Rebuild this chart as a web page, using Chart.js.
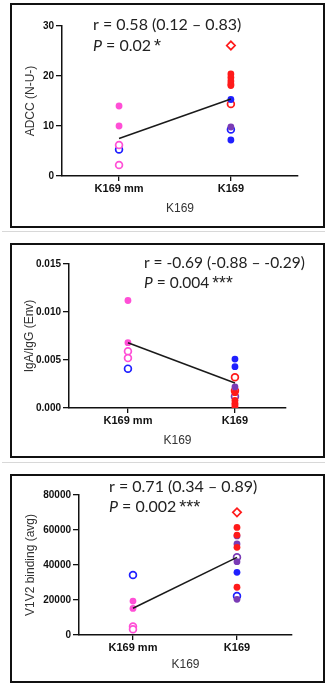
<!DOCTYPE html>
<html>
<head>
<meta charset="utf-8">
<script src="https://cdn.jsdelivr.net/npm/chart.js@4.4.1/dist/chart.umd.min.js"></script>
<style>
  html, body { margin: 0; padding: 0; background: #fff; }
  body { width: 328px; height: 687px; position: relative; overflow: hidden; }
  .box { position: absolute; left: 10px; width: 315px; border: 2px solid #111; box-sizing: border-box; }
  .box canvas { display: block; }
  .sep { position: absolute; left: 2px; width: 323px; height: 1px; background: #d8d8d8; }
</style>
</head>
<body>
<div class="box" style="top:3px;height:225px"><canvas id="c1" width="311" height="221"></canvas></div>
<div class="sep" style="top:231px"></div>
<div class="box" style="top:243px;height:215px"><canvas id="c2" width="311" height="211"></canvas></div>
<div class="sep" style="top:462px"></div>
<div class="box" style="top:474px;height:209px"><canvas id="c3" width="311" height="205"></canvas></div>
<script>
// categories (x = 1, 2)
var categories = ['K169 mm', 'K169'];
var xTitle = 'K169';

// kolory grup
var PINK = '#ff4fd6';
var BLUE = '#1f1fff';
var RED = '#ff1a1a';
var PURPLE = '#7a3bb5';

// ---- panel 1: ADCC ----
var adccMmPinkFilled = [14.0, 10.0];
var adccMmPinkOpen = [6.2, 2.2];
var adccMmBlueOpen = [5.3];
var adccKRedDiamond = [26.1];
var adccKRedFilled = [20.4, 19.7, 19.0, 18.4, 18.1];
var adccKRedOpen = [14.4];
var adccKBlueFilled = [15.3, 7.2];
var adccKPurpleFilled = [9.8];
var adccKBlueOpen = [9.3];
var adccFit = [7.5, 15.4];
var adccTicks = [0, 10, 20, 30];

// ---- panel 2: IgA/IgG ----
var igaMmPinkFilled = [0.0112, 0.0068];
var igaMmPinkOpen = [0.0059, 0.0052];
var igaMmBlueOpen = [0.0041];
var igaKBlueFilled = [0.0051, 0.0043];
var igaKRedOpen = [0.0032, 0.0018];
var igaKPurpleFilled = [0.0022];
var igaKRedDiamond = [0.0019];
var igaKPurpleOpen = [0.0012];
var igaKRedFilled = [0.0016, 0.0008, 0.0005, 0.0003, 0.0001];
var igaFit = [0.0068, 0.0026];
var igaTicks = [0, 0.005, 0.010, 0.015];

// ---- panel 3: V1V2 ----
var v1v2MmBlueOpen = [34300];
var v1v2MmPinkFilled = [19400, 15200];
var v1v2MmPinkOpen = [4800, 3300];
var v1v2KRedDiamond = [70100];
var v1v2KRedFilled = [61500, 57100, 50100, 27300];
var v1v2KPurpleFilled = [56600, 52000, 41900, 20400];
var v1v2KPurpleOpen = [44400];
var v1v2KBlueFilled = [35800];
var v1v2KBlueOpen = [22300];
var v1v2Fit = [15300, 44400];
var v1v2Ticks = [0, 20000, 40000, 60000, 80000];

function pts(cat, values) {
    return values.map(function (v) { return { x: cat, y: v }; });
}

function dot(cat, values, color, open, style) {
    return {
        type: 'scatter',
        data: pts(cat, values),
        pointStyle: style || 'circle',
        pointRadius: style ? 4.2 : 3.4,
        pointBorderWidth: open ? 1.7 : 0,
        pointBorderColor: color,
        pointBackgroundColor: open ? '#fff' : color,
        pointHoverRadius: 0
    };
}

function fitLine(values) {
    return {
        type: 'line',
        data: pts(1, [values[0]]).concat(pts(2, [values[1]])),
        borderColor: '#1a1a1a',
        borderWidth: 1.5,
        pointRadius: 0,
        fill: false
    };
}

// napis z r i P
var statText = {
    id: 'statText',
    afterDraw: function (chart) {
        var o = chart.options.plugins.statText;
        if (!o) return;
        var ctx = chart.ctx;
        ctx.save();
        ctx.fillStyle = '#222';
        ctx.textBaseline = 'middle';
        ctx.font = o.size + 'px Lato';
        ctx.fillText(o.r, o.x, o.y);
        ctx.font = 'italic ' + o.size + 'px Lato';
        ctx.fillText('P', o.x, o.y + o.gap);
        var w = ctx.measureText('P').width;
        ctx.font = o.size + 'px Lato';
        ctx.fillText(o.p, o.x + w, o.y + o.gap);
        var w2 = ctx.measureText(o.p).width;
        // gwiazdki trochę większe
        ctx.font = (o.size + 2) + 'px "Liberation Sans"';
        ctx.fillText(o.stars, o.x + w + w2 + 3, o.y + o.gap + 1);
        ctx.restore();
    }
};

function makeChart(id, datasets, cfg) {
    var ctx = document.getElementById(id).getContext('2d');
    return new Chart(ctx, {
        data: { datasets: datasets },
        options: {
            responsive: false,
            animation: false,
            layout: { padding: { left: 0, right: cfg.padRight, top: cfg.padTop, bottom: 0 } },
            plugins: {
                legend: { display: false },
                tooltip: { enabled: false },
                statText: cfg.text
            },
            scales: {
                x: {
                    type: 'linear',
                    min: cfg.xMin,
                    max: cfg.xMax,
                    afterBuildTicks: function (s) { s.ticks = [{ value: 1 }, { value: 2 }]; },
                    afterFit: function (s) { s.height = cfg.xHeight; },
                    grid: { display: true, drawOnChartArea: false, color: '#111', tickLength: 5, lineWidth: 1.3 },
                    border: { color: '#111', width: 1.5 },
                    ticks: {
                        color: '#111',
                        font: { family: 'Liberation Sans', size: 11, weight: 'bold' },
                        padding: 1,
                        maxRotation: 0,
                        callback: function (v) { return categories[v - 1]; }
                    },
                    title: {
                        display: true,
                        text: xTitle,
                        color: '#333',
                        font: { family: 'Liberation Sans', size: 12 },
                        padding: { top: 0, bottom: cfg.xTitlePad }
                    }
                },
                y: {
                    min: cfg.ticks[0],
                    max: cfg.ticks[cfg.ticks.length - 1],
                    afterBuildTicks: function (s) { s.ticks = cfg.ticks.map(function (v) { return { value: v }; }); },
                    afterFit: function (s) { s.width = cfg.yWidth; },
                    grid: { display: true, drawOnChartArea: false, color: '#111', tickLength: 6, lineWidth: 1.3 },
                    border: { color: '#111', width: 1.5 },
                    ticks: {
                        color: '#111',
                        font: { family: 'Liberation Sans', size: 10, weight: 'bold' },
                        padding: 2,
                        callback: cfg.fmt
                    },
                    title: {
                        display: true,
                        text: cfg.yTitle,
                        color: '#333',
                        font: { family: 'Liberation Sans', size: 12 },
                        padding: { top: cfg.yTitlePad, bottom: 0 }
                    }
                }
            }
        },
        plugins: [statText]
    });
}

function initialize() {
    makeChart('c1', [
        fitLine(adccFit),
        dot(1, adccMmPinkFilled, PINK, false),
        dot(1, adccMmPinkOpen, PINK, true),
        dot(1, adccMmBlueOpen, BLUE, true),
        dot(2, adccKRedFilled, RED, false),
        dot(2, adccKBlueFilled, BLUE, false),
        dot(2, adccKPurpleFilled, PURPLE, false),
        dot(2, adccKRedOpen, RED, true),
        dot(2, adccKBlueOpen, BLUE, true),
        dot(2, adccKRedDiamond, RED, true, 'rectRot')
    ], {
        padRight: 25, padTop: 21, xHeight: 50, yWidth: 50, xTitlePad: 10, yTitlePad: 11,
        xMin: 0.49, xMax: 2.6, ticks: adccTicks, yTitle: 'ADCC (N-U-)',
        fmt: function (v) { return String(v); },
        text: { r: 'r = 0.58 (0.12 \u2013 0.83)', p: ' = 0.02', stars: '*', x: 81, y: 20, gap: 21, size: 16 }
    });

    makeChart('c2', [
        fitLine(igaFit),
        dot(1, igaMmPinkFilled, PINK, false),
        dot(1, igaMmPinkOpen, PINK, true),
        dot(1, igaMmBlueOpen, BLUE, true),
        dot(2, igaKBlueFilled, BLUE, false),
        dot(2, igaKPurpleFilled, PURPLE, false),
        dot(2, igaKRedFilled, RED, false),
        dot(2, igaKRedOpen, RED, true),
        dot(2, igaKPurpleOpen, PURPLE, true),
        dot(2, igaKRedDiamond, RED, false, 'rectRot')
    ], {
        padRight: 37, padTop: 19, xHeight: 48, yWidth: 57, xTitlePad: 8, yTitlePad: 10,
        xMin: 0.449, xMax: 2.477, ticks: igaTicks, yTitle: 'IgA/IgG (Env)',
        fmt: function (v) { return v.toFixed(3); },
        text: { r: 'r = -0.69 (-0.88 \u2013 -0.29)', p: ' = 0.004', stars: '***', x: 132, y: 18, gap: 20, size: 15.5 }
    });

    makeChart('c3', [
        fitLine(v1v2Fit),
        dot(1, v1v2MmBlueOpen, BLUE, true),
        dot(1, v1v2MmPinkFilled, PINK, false),
        dot(1, v1v2MmPinkOpen, PINK, true),
        dot(2, v1v2KRedFilled, RED, false),
        dot(2, v1v2KPurpleFilled, PURPLE, false),
        dot(2, v1v2KBlueFilled, BLUE, false),
        dot(2, v1v2KPurpleOpen, PURPLE, true),
        dot(2, v1v2KBlueOpen, BLUE, true),
        dot(2, v1v2KRedDiamond, RED, true, 'rectRot')
    ], {
        padRight: 31, padTop: 19, xHeight: 46, yWidth: 67, xTitlePad: 9, yTitlePad: 11,
        xMin: 0.481, xMax: 2.529, ticks: v1v2Ticks, yTitle: 'V1V2 binding (avg)',
        fmt: function (v) { return String(v); },
        text: { r: 'r = 0.71 (0.34 \u2013 0.89)', p: ' = 0.002', stars: '***', x: 97, y: 11, gap: 20, size: 16 }
    });
}
document.addEventListener('DOMContentLoaded', initialize);
</script>
</body>
</html>
